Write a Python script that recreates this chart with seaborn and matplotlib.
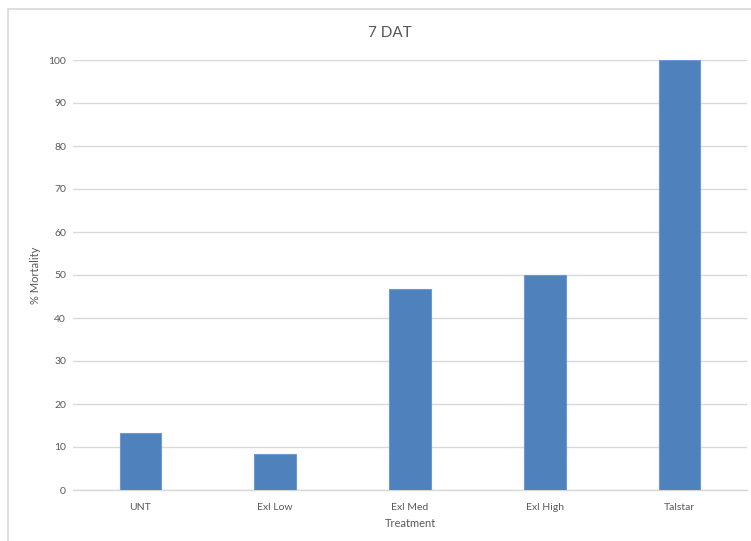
import matplotlib
matplotlib.use("Agg")
import matplotlib.pyplot as plt
import seaborn as sns
import pandas as pd
from matplotlib.patches import Rectangle

categories = ["UNT", "Exl Low", "Exl Med", "Exl High", "Talstar"]
mortality = [13.3, 8.3, 46.7, 50.0, 100.0]
yticks = [0, 10, 20, 30, 40, 50, 60, 70, 80, 90, 100]

sns.set_theme(style="white")
plt.rcParams['font.family'] = ['Lato', 'DejaVu Sans']

df = pd.DataFrame({"Treatment": categories, "Mortality": mortality})

W, H = 751, 541
fig = plt.figure(figsize=(W / 100, H / 100), dpi=100)
ax = fig.add_axes([73 / W, 1 - 490 / H, (747 - 73) / W, (490 - 60) / H])

sns.barplot(data=df, x="Treatment", y="Mortality", color="#4F81BD",
            saturation=1, width=0.31, edgecolor="#6A9AD0", linewidth=0.8,
            ax=ax, zorder=3)

ax.set_ylim(0, 100)
ax.set_xlim(-0.5, len(categories) - 0.5)
ax.set_yticks(yticks)
ax.set_yticklabels([str(t) for t in yticks])
ax.yaxis.grid(True, color="#D9D9D9", linewidth=1.0, zorder=0)
ax.xaxis.grid(False)
for s in ["top", "right", "left"]:
    ax.spines[s].set_visible(False)
ax.spines["bottom"].set_color("#D9D9D9")
ax.spines["bottom"].set_linewidth(1.0)
ax.tick_params(axis="both", length=0, labelsize=7.5, colors="#595959")
ax.tick_params(axis="y", pad=5)
ax.tick_params(axis="x", pad=9)
ax.set_xlabel("Treatment", fontsize=8, color="#595959")
ax.set_ylabel("% Mortality", fontsize=8, color="#595959")
ax.yaxis.set_label_coords(-0.047, 0.5)
ax.xaxis.set_label_coords(0.5, -0.066)

fig.text(390 / W, 1 - 33 / H, "7 DAT", ha="center", va="center",
         fontsize=11, color="#595959")

fig.patches.append(Rectangle((8 / W, -0.05), 1.0, 1 - 9 / H + 0.05,
                             transform=fig.transFigure, fill=False,
                             edgecolor="#D9D9D9", linewidth=1.2))

fig.savefig("out.png", dpi=100)
